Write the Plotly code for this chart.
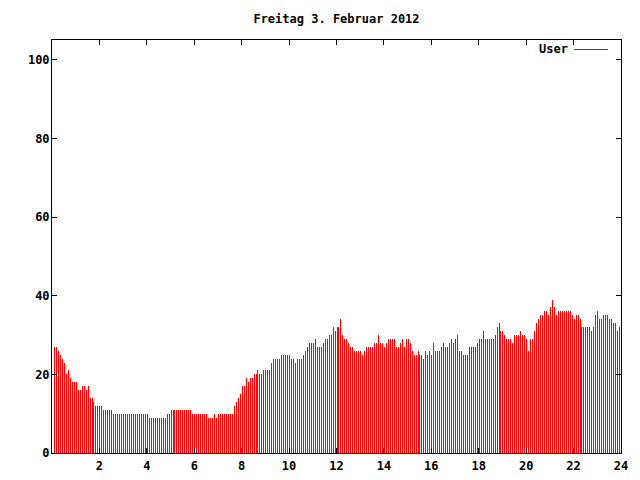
import plotly.graph_objects as go

title_text = "Freitag 3. Februar 2012"
series_name = "User"
step_minutes = 5  # one sample every 5 minutes, first at 00:05

user_values = [
    # 00:05 - 05:00
    27, 27, 26, 25, 24, 23, 20, 21, 19, 18, 18, 18, 16, 16, 17, 17, 16, 17, 14, 14, 13,
    12, 12, 12, 12, 11, 11, 11, 11, 11,
    10, 10, 10, 10, 10, 10, 10, 10, 10, 10, 10, 10, 10, 10, 10, 10, 10, 10,
    9, 9, 9, 9, 9, 9, 9, 9, 9, 10, 10, 11,
    # 05:00 - 10:00
    11, 11, 11, 11, 11, 11, 11, 11, 11, 11,
    10, 10, 10, 10, 10, 10, 10, 10, 9, 9, 9, 10, 9,
    10, 10, 10, 10, 10, 10, 10, 10,
    12, 13, 14, 15, 17, 17, 19, 18, 19, 19, 20, 20, 21, 20, 20, 21, 21, 21, 21,
    23, 24, 24, 24, 24, 25, 25, 25, 25, 25,
    # 10:00 - 15:00
    24, 24, 23, 24, 24, 24, 25, 26, 27, 28, 28, 28, 29, 27, 27, 27, 28, 29,
    29, 30, 30, 32, 31, 32, 32, 34, 30, 29, 29, 28, 27, 27, 26, 26, 26, 26,
    25, 26, 27, 27, 27, 27, 28, 28, 30, 28, 28, 27, 28, 29, 29, 29, 29, 27,
    27, 28, 29, 27, 29,
    # 15:00 - 20:00
    29, 28, 26, 25, 25, 26, 25, 25, 24, 26, 25, 26, 25, 28, 26, 26, 26, 27,
    28, 27, 27, 28, 29, 28, 29, 30, 26, 26, 25, 25, 25, 27, 27, 27, 27, 28,
    29, 29, 31, 29, 29, 29, 29, 29, 30, 32, 33, 31, 31, 30, 29, 29, 29, 28,
    30, 30, 30, 31, 30,
    # 20:00 - 24:00
    30, 29, 26, 29, 29, 31, 33, 34, 35, 35, 36, 36, 35, 37, 39, 37, 35,
    36, 36, 36, 36, 36, 36, 36, 35, 34, 35, 35, 34, 32, 32, 32, 32, 32,
    31, 32, 35, 36, 34, 34, 35, 35, 35, 34, 34, 33, 33, 31, 32, 30,
]

x_tick_values = [2, 4, 6, 8, 10, 12, 14, 16, 18, 20, 22, 24]
y_tick_values = [0, 20, 40, 60, 80, 100]

hours = [(i + 1) * step_minutes / 60 for i in range(len(user_values))]

font_family = "DejaVu Sans Mono"
red = "rgba(255,0,0,0.999)"

# The page body has an 8px margin, so the figure is 16px smaller than the window
fig_w, fig_h = 624, 464

fig = go.Figure()
fig.add_trace(go.Bar(
    x=hours,
    y=user_values,
    width=0.0422,
    offset=0,
    marker=dict(color=red, line=dict(width=0)),
    name=series_name,
    showlegend=False,
))

axis_common = dict(
    showline=True,
    linecolor="black",
    linewidth=1,
    mirror="allticks",
    ticks="inside",
    ticklen=5,
    tickcolor="black",
    tickwidth=1,
    showgrid=False,
    zeroline=False,
    tickfont=dict(family=font_family, size=12, color="black", weight="bold"),
)

fig.update_layout(
    width=fig_w,
    height=fig_h,
    paper_bgcolor="white",
    plot_bgcolor="white",
    margin=dict(l=44, r=11, t=32, b=19, autoexpand=False),
    title=dict(
        text=title_text,
        x=328.5 / fig_w,
        xanchor="center",
        y=1 - 11 / fig_h,
        yanchor="middle",
        font=dict(family=font_family, size=12, color="black", weight="bold"),
    ),
    xaxis=dict(range=[0, 24], tickvals=x_tick_values, ticklabelstandoff=2, **axis_common),
    yaxis=dict(range=[0, 105], tickvals=y_tick_values, ticklabelstandoff=-1, **axis_common),
    bargap=0,
    showlegend=False,
)

# legend key (gnuplot style: text then line sample)
fig.add_annotation(
    xref="paper", yref="paper",
    x=(570 - 52) / 569, y=(453 - 49) / 413,
    xanchor="right", yanchor="middle",
    text=series_name, showarrow=False,
    font=dict(family=font_family, size=12, color="black", weight="bold"),
)
fig.add_shape(
    type="line", xref="paper", yref="paper",
    x0=(574 - 52) / 569, x1=(608 - 52) / 569,
    y0=(453 - 49.5) / 413, y1=(453 - 49.5) / 413,
    line=dict(color="#ff0000", width=1),
)

fig.write_html("out.html")
